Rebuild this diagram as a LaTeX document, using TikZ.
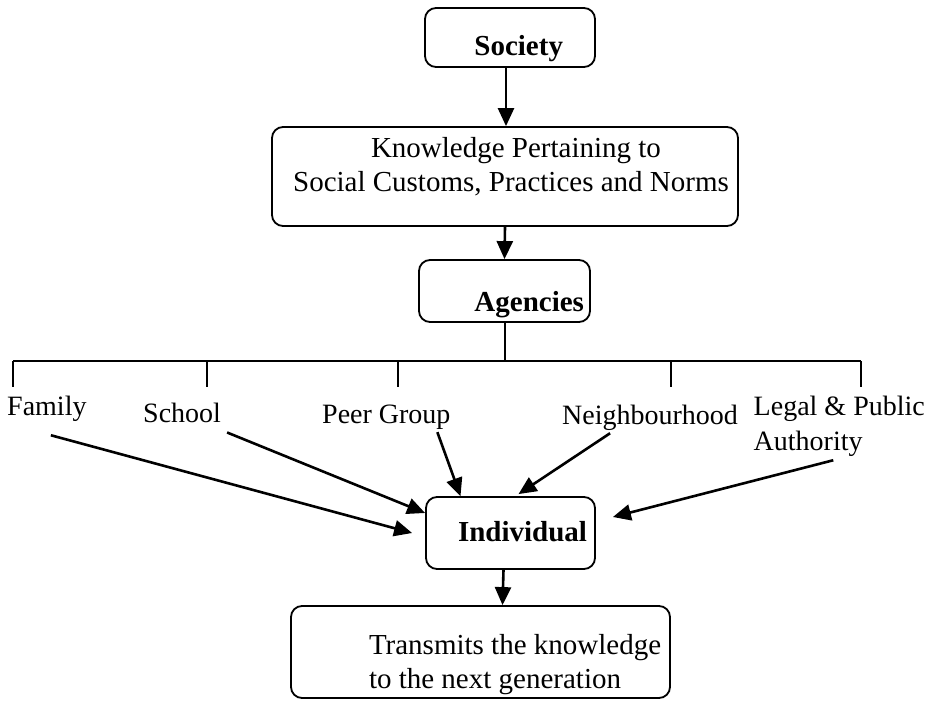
\documentclass[tikz,border=0pt]{standalone}
\usepackage{fontspec}
\setmainfont{Liberation Serif}
\usetikzlibrary{arrows.meta}

\begin{document}
\begin{tikzpicture}
	[x=1pt, y=-1pt,
		containsText/.style ={font=\fontsize{29}{34}\selectfont
									},
		block/.style		={rectangle
									, containsText
									, rounded corners=11pt
									, draw
									, line width=1.8pt
									, inner ysep=0pt
									},
		boldblock/.style	={block
									, font=\fontsize{29}{34}\selectfont\bfseries
									, align=flush right
									, text depth=7pt
									},
		agency/.style		={font=\fontsize{28}{35}\selectfont
									, inner sep=3pt
									, anchor=base west
									},
		arrowline/.style	={draw
									, line width=2.6pt
									, -{Triangle[length=18pt,width=16pt]}
									},
		tickline/.style		={draw
									, line width=2pt
									}
	]
\useasboundingbox (0,0) rectangle (930,704);

% boxes
\node [boldblock, inner xsep=32pt, text width=106pt, minimum height=59pt, text height=42pt]
	(society) at (510,37.5) {Society};
\node [block, align=flush center, inner xsep=0pt, text width=466pt, minimum height=99pt, text height=3pt, text depth=42pt]
	(knowledge) at (505,176.5) {\hspace*{22pt}Knowledge Pertaining to\\\hspace*{12pt}Social Customs, Practices and Norms};
\node [boldblock, inner xsep=6pt, text width=159pt, minimum height=62pt, text height=47pt]
	(agencies) at (504.5,291) {Agencies};
\node [boldblock, inner xsep=8pt, text width=153pt, minimum height=72pt, text height=23pt]
	(individual) at (510.5,533) {Individual};
\node [block, align=flush left, inner xsep=0pt, text width=379pt, minimum height=92pt, text height=46pt, text depth=42pt]
	(transmits) at (480.5,652) {\hspace*{78pt}Transmits the knowledge\\\hspace*{78pt}to the next generation};

% agencies
\node [agency] (family) at (4,415)		{Family};
\node [agency] (school) at (140,422)	{School};
\node [agency] (peer) at (319,423)		{Peer Group};
\node [agency] (neigh) at (559,424)		{Neighbourhood};
\node [agency, anchor=base east, align=left]
	(legal) at (928,450) {Legal \& Public\\Authority};

\coordinate (bar) at (504.5,361);
\foreach \name/\x in {family/13, school/207, peer/398, neigh/671, legal/861}
	\coordinate (\name-tick) at (\x,387);

\path [tickline] (agencies) -- (bar);
\path [tickline] (family-tick |- bar) -- (legal-tick |- bar);
\foreach \name in {family, school, peer, neigh, legal}
	\path [tickline] (\name-tick |- bar) -- (\name-tick);

\path [arrowline] ([xshift=-4pt]society.south) -- ([xshift=1pt]knowledge.north);
\path [arrowline] (knowledge.south) -- (agencies.north);
\path [arrowline] ([xshift=4pt,yshift=-11pt]family.south) -- ([xshift=-13pt]individual.west);
\path [arrowline] ([xshift=45pt,yshift=-7pt]school.south) -- ([yshift=20pt]individual.west);
\path [arrowline] ([xshift=51pt]peer.south) -- ([xshift=-50pt]individual.north);
\path [arrowline] ([xshift=-40pt]neigh.south) -- ([xshift=8pt,yshift=2pt]individual.north);
\path [arrowline] ([xshift=-6pt,yshift=-1pt]legal.south) -- ([xshift=17pt,yshift=16pt]individual.east);
\path [arrowline] ([xshift=-7pt]individual.south) -- ([xshift=22pt]transmits.north);
\end{tikzpicture}
\end{document}
